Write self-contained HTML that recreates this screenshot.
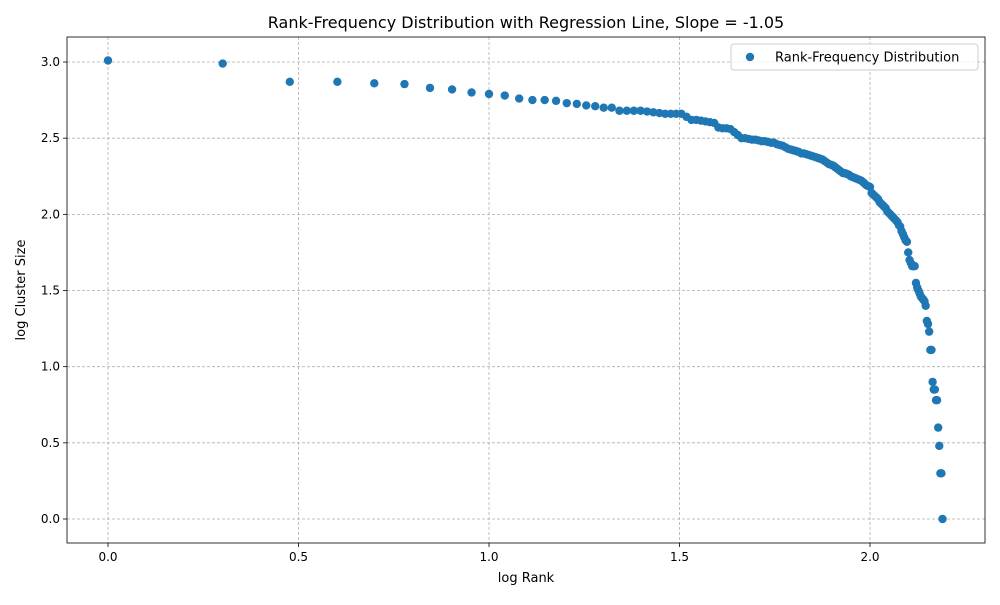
<!DOCTYPE html>
<html><head><meta charset="utf-8"><style>
body{margin:0;background:#fff;font-family:"Liberation Sans","DejaVu Sans",sans-serif}
svg text{font-family:"DejaVu Sans","Liberation Sans",sans-serif}
</style></head><body>
<svg id="chart" width="1000" height="600"></svg>
<script>
const logClusterSize = [3.01,2.99,2.87,2.87,2.86,2.855,2.83,2.82,2.80,2.79,2.78,2.76,2.75,2.75,2.745,2.73,2.725,2.715,2.71,2.70,2.70,2.68,2.68,2.68,2.68,2.675,2.67,2.665,2.66,2.66,2.66,2.66,
2.64,2.62,2.62,2.615,2.61,2.605,2.60,2.57,
2.565,2.565,2.56,2.54,2.52,
2.50,2.50,2.495,2.49,2.49,
2.485,2.48,2.48,2.475,2.47,2.47,
2.46,2.455,2.45,2.44,
2.43,2.425,2.42,2.415,2.41,2.40,
2.40,2.395,2.39,2.385,2.38,2.375,2.37,2.365,2.36,
2.35,2.34,2.33,2.325,2.32,
2.31,2.30,2.29,2.28,2.27,2.27,2.265,
2.26,2.25,2.245,2.24,2.235,2.23,2.225,2.22,
2.21,2.20,2.19,2.185,2.18,
2.14,2.13,2.12,2.11,2.10,
2.08,2.07,2.06,2.05,2.04,
2.02,2.01,2.00,1.99,1.98,
1.97,1.96,1.95,1.93,1.92,
1.89,1.87,1.85,1.83,1.82,
1.75,1.70,1.68,1.66,1.66,1.66,
1.55,1.52,1.50,1.48,1.46,1.45,1.44,
1.43,1.40,1.30,1.28,1.23,1.11,1.11,
0.90,0.85,0.85,0.78,0.78,0.60,0.48,0.30,0.30,0.0];
const xTicks = [0.0,0.5,1.0,1.5,2.0];
const yTicks = [0.0,0.5,1.0,1.5,2.0,2.5,3.0];
const titleText = "Rank-Frequency Distribution with Regression Line, Slope = -1.05";

const svg = document.getElementById('chart');
const NS = "http://www.w3.org/2000/svg";
const L=67,R=985,T=37,B=543;
const xs = v => 108 + v*381;
const ys = v => 519 - v*152.33;
function mk(tag, attrs, parent){const e=document.createElementNS(NS,tag);for(const k in attrs)e.setAttribute(k,attrs[k]);(parent||svg).appendChild(e);return e;}

const grid = mk('g',{});


xTicks.forEach(t=>{
  const l=mk('line',{x1:xs(t),x2:xs(t),y1:T,y2:B,stroke:'#b0b0b0','stroke-dasharray':'3,2','stroke-width':0.8},grid);
  
  
  const tk=mk('line',{x1:xs(t),x2:xs(t),y1:B,y2:B+4,stroke:'#000','stroke-width':0.8});
  
  
  const tx=mk('text',{x:xs(t),y:B+18,'text-anchor':'middle','font-size':12});
  tx.textContent=t.toFixed(1);
  
  
});
yTicks.forEach(t=>{
  const l=mk('line',{x1:L,x2:R,y1:ys(t),y2:ys(t),stroke:'#b0b0b0','stroke-dasharray':'3,2','stroke-width':0.8},grid);
  
  
  const tk=mk('line',{x1:L-4,x2:L,y1:ys(t),y2:ys(t),stroke:'#000','stroke-width':0.8});
  
  
  const tx=mk('text',{x:L-7,y:ys(t)+4,'text-anchor':'end','font-size':12});
  tx.textContent=t.toFixed(1);
  
  
});
const pts = mk('g',{});


logClusterSize.forEach((v,i)=>{
  const c=mk('circle',{cx:xs(Math.log10(i+1)),cy:ys(v),r:4.2,fill:'#1f77b4'},pts);
  
  
});
const frame=mk('rect',{x:L,y:T,width:R-L,height:B-T,fill:'none',stroke:'#000','stroke-width':0.8});


const title=mk('text',{x:(L+R)/2,y:28,'text-anchor':'middle','font-size':16});
title.textContent=titleText;


const xl=mk('text',{x:(L+R)/2,y:582,'text-anchor':'middle','font-size':13});
xl.textContent='log Rank';


const yl=mk('text',{x:0,y:0,'text-anchor':'middle','font-size':13,transform:`translate(25,${(T+B)/2}) rotate(-90)`});
yl.textContent='log Cluster Size';


const lg=mk('g',{});


mk('rect',{x:731,y:44,width:247,height:26,rx:3,fill:'#fff','fill-opacity':0.8,stroke:'#ccc'},lg);
const lm=mk('circle',{cx:750,cy:57,r:4.2,fill:'#1f77b4'},lg);


const lt=mk('text',{x:775,y:61.5,'font-size':13},lg);
lt.textContent='Rank-Frequency Distribution';


</script>
</body></html>
